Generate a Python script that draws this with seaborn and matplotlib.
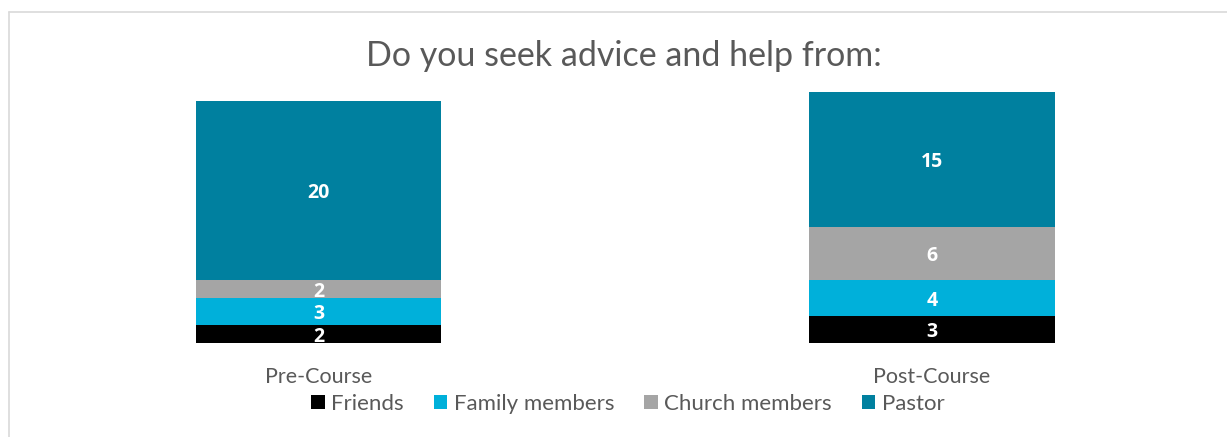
import numpy as np
import pandas as pd
import matplotlib
matplotlib.use("Agg")
import matplotlib.pyplot as plt
from matplotlib.patches import Patch
from matplotlib.lines import Line2D
import seaborn as sns

# Survey answers per phase
phases = ["Pre-Course", "Post-Course"]
friends = [2, 3]
family_members = [3, 4]
church_members = [2, 6]
pastor = [20, 15]

series_names = ["Friends", "Family members", "Church members", "Pastor"]
series_colors = ["#000000", "#00B0DA", "#A5A5A5", "#00809F"]
series_values = [friends, family_members, church_members, pastor]

sns.set_theme(style="white")
plt.rcParams["font.family"] = ["Lato", "DejaVu Sans"]
text_gray = "#595959"

W, H = 1227, 437
fig = plt.figure(figsize=(W / 100, H / 100), dpi=100)

# axes placement in pixels: bar centres at 318.5 / 932, baseline at y=343
px_per_cat = 613.5
ax_left_px, ax_right_px = 12, 1227
ax_bottom_px, ax_top_px = 343, 74
ax = fig.add_axes([ax_left_px / W, 1 - ax_bottom_px / H,
                   (ax_right_px - ax_left_px) / W, (ax_bottom_px - ax_top_px) / H])

# stacked bars: draw cumulative totals from the top layer down
cum = np.cumsum(np.array(series_values), axis=0)
df = pd.DataFrame({"phase": phases})
for i in range(len(series_names) - 1, -1, -1):
    df["v"] = cum[i]
    sns.barplot(data=df, x="phase", y="v", color=series_colors[i], width=0.4,
                saturation=1, ax=ax, edgecolor="none", linewidth=0)

# value labels inside each segment
for j in range(len(phases)):
    bottom = 0
    for i, vals in enumerate(series_values):
        v = vals[j]
        ax.text(j, bottom + v / 2, str(v), ha="center", va="center_baseline",
                color="white", fontsize=14, fontweight="bold",
                family=["Open Sans", "DejaVu Sans"])
        bottom += v

ax.set_xlim((ax_left_px - 318.5) / px_per_cat, (ax_right_px - 318.5) / px_per_cat)
ax.set_ylim(0, (ax_bottom_px - ax_top_px) / 8.96)
ax.set_xlabel("")
ax.set_ylabel("")
ax.set_yticks([])
ax.tick_params(axis="x", length=0, pad=17, labelsize=15.5, labelcolor=text_gray)
for s in ax.spines.values():
    s.set_visible(False)

fig.text(624 / W, 1 - 56 / H, "Do you seek advice and help from:", ha="center",
         va="center", fontsize=24.5, color=text_gray)

handles = [Patch(facecolor=c, edgecolor="none") for c in series_colors]
fig.legend(handles, series_names, loc="center", bbox_to_anchor=(628 / W, 1 - 404 / H),
           ncol=4, frameon=False, fontsize=16, labelcolor=text_gray,
           handlelength=0.6, handleheight=0.6, handletextpad=0.3, columnspacing=1.35)

# light chart-area border (left and top edges)
fig.add_artist(Line2D([8.5 / W, 8.5 / W], [0, 1 - 11.5 / H], transform=fig.transFigure,
                      color="#D9D9D9", linewidth=1.2))
fig.add_artist(Line2D([8.5 / W, 1], [1 - 11.5 / H, 1 - 11.5 / H], transform=fig.transFigure,
                      color="#D9D9D9", linewidth=1.2))

fig.savefig("out.png", dpi=100, facecolor="white")
